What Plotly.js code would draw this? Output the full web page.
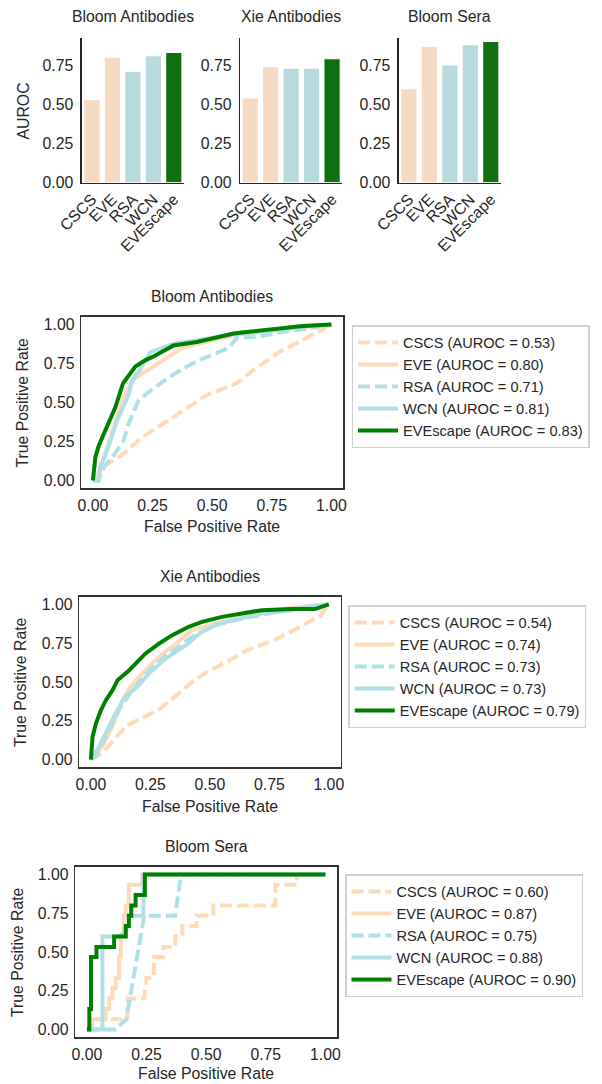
<!DOCTYPE html>
<html>
<head>
<meta charset="utf-8">
<script src="https://cdn.plot.ly/plotly-3.0.1.min.js"></script>
<style>html,body{margin:0;padding:0;background:#fff;}#chart{width:602px;height:1084px;}</style>
</head>
<body>
<div id="chart"></div>
<script>
// ---------- data ----------
const methods = ['CSCS', 'EVE', 'RSA', 'WCN', 'EVEscape'];
const datasets = ['Bloom Antibodies', 'Xie Antibodies', 'Bloom Sera'];

const aurocBloomAb = [0.53, 0.80, 0.71, 0.81, 0.83];
const aurocXieAb = [0.54, 0.74, 0.73, 0.73, 0.79];
const aurocBloomSera = [0.60, 0.87, 0.75, 0.88, 0.90];

// ROC curves: Bloom Antibodies
const bloomAbCscsFpr = [0, 0.017, 0.052, 0.129, 0.199, 0.338, 0.478, 0.604, 0.674, 0.786, 0.898, 1];
const bloomAbCscsTpr = [0, 0.02, 0.096, 0.172, 0.269, 0.409, 0.548, 0.624, 0.71, 0.828, 0.914, 1];
const bloomAbEveFpr = [0, 0.017, 0.045, 0.087, 0.129, 0.171, 0.227, 0.311, 0.381, 0.478, 0.59, 0.758, 1];
const bloomAbEveTpr = [0, 0.02, 0.146, 0.339, 0.533, 0.651, 0.705, 0.791, 0.855, 0.888, 0.931, 0.963, 1];
const bloomAbRsaFpr = [0, 0.024, 0.045, 0.087, 0.129, 0.15, 0.192, 0.254, 0.324, 0.394, 0.45, 0.534, 0.569, 0.604, 0.702, 0.814, 0.898, 1];
const bloomAbRsaTpr = [0, 0, 0.086, 0.161, 0.258, 0.366, 0.516, 0.591, 0.667, 0.731, 0.774, 0.828, 0.849, 0.914, 0.925, 0.957, 0.972, 1];
const bloomAbWcnFpr = [0, 0.024, 0.031, 0.059, 0.101, 0.136, 0.15, 0.164, 0.199, 0.241, 0.311, 0.338, 0.478, 0.59, 0.758, 0.898, 1];
const bloomAbWcnTpr = [0, 0, 0.086, 0.19, 0.383, 0.512, 0.55, 0.64, 0.716, 0.823, 0.866, 0.877, 0.909, 0.937, 0.963, 0.995, 1];
const bloomAbEvescapeFpr = [0, 0.01, 0.024, 0.045, 0.066, 0.094, 0.126, 0.157, 0.178, 0.219, 0.254, 0.338, 0.436, 0.59, 0.758, 0.87, 1];
const bloomAbEvescapeTpr = [0, 0.146, 0.221, 0.296, 0.361, 0.469, 0.623, 0.683, 0.731, 0.77, 0.795, 0.866, 0.888, 0.942, 0.967, 0.989, 1];

// ROC curves: Xie Antibodies
const xieAbCscsFpr = [0, 0.014, 0.056, 0.091, 0.146, 0.216, 0.286, 0.356, 0.439, 0.495, 0.565, 0.663, 0.775, 0.886, 0.969, 1];
const xieAbCscsTpr = [0, 0.011, 0.054, 0.118, 0.215, 0.269, 0.323, 0.409, 0.516, 0.57, 0.624, 0.71, 0.774, 0.86, 0.935, 1];
const xieAbEveFpr = [0, 0.007, 0.049, 0.091, 0.133, 0.167, 0.216, 0.286, 0.356, 0.425, 0.495, 0.607, 0.718, 0.844, 1];
const xieAbEveTpr = [0, 0.011, 0.086, 0.215, 0.383, 0.469, 0.555, 0.662, 0.748, 0.834, 0.866, 0.909, 0.952, 0.98, 1];
const xieAbRsaFpr = [0, 0.021, 0.063, 0.119, 0.174, 0.244, 0.328, 0.425, 0.523, 0.635, 0.746, 0.886, 1];
const xieAbRsaTpr = [0, 0.022, 0.15, 0.323, 0.447, 0.576, 0.684, 0.791, 0.866, 0.909, 0.942, 0.974, 1];
const xieAbWcnFpr = [0, 0.007, 0.035, 0.07, 0.105, 0.146, 0.195, 0.244, 0.307, 0.356, 0.411, 0.439, 0.467, 0.537, 0.635, 0.718, 0.844, 0.941, 1];
const xieAbWcnTpr = [0, 0.011, 0.086, 0.193, 0.301, 0.409, 0.469, 0.555, 0.641, 0.695, 0.748, 0.791, 0.823, 0.877, 0.909, 0.942, 0.963, 0.995, 1];
const xieAbEvescapeFpr = [0, 0.007, 0.021, 0.042, 0.063, 0.091, 0.112, 0.161, 0.195, 0.23, 0.286, 0.342, 0.411, 0.467, 0.551, 0.635, 0.718, 0.844, 0.941, 1];
const xieAbEvescapeTpr = [0, 0.146, 0.232, 0.318, 0.383, 0.447, 0.512, 0.576, 0.63, 0.684, 0.748, 0.802, 0.856, 0.888, 0.92, 0.942, 0.963, 0.97, 0.97, 1];

// ROC curves: Bloom Sera
const bloomSeraCscsFpr = [0, 0.02, 0.02, 0.17, 0.17, 0.24, 0.25, 0.28, 0.28, 0.32, 0.32, 0.37, 0.37, 0.40, 0.40, 0.46, 0.46, 0.53, 0.53, 0.79, 0.79, 0.88, 0.88, 1];
const bloomSeraCscsTpr = [0, 0, 0.067, 0.067, 0.2, 0.2, 0.333, 0.333, 0.467, 0.467, 0.533, 0.533, 0.6, 0.6, 0.667, 0.667, 0.733, 0.733, 0.8, 0.8, 0.933, 0.933, 1, 1];
const bloomSeraEveFpr = [0, 0.02, 0.02, 0.079, 0.079, 0.093, 0.093, 0.107, 0.107, 0.121, 0.121, 0.135, 0.135, 0.142, 0.142, 0.155, 0.155, 0.163, 0.163, 0.175, 0.175, 0.232, 0.232, 1];
const bloomSeraEveTpr = [0, 0, 0.067, 0.067, 0.133, 0.133, 0.2, 0.2, 0.267, 0.267, 0.333, 0.333, 0.467, 0.467, 0.6, 0.6, 0.733, 0.733, 0.8, 0.8, 0.933, 0.933, 1, 1];
const bloomSeraRsaFpr = [0, 0.12, 0.165, 0.24, 0.37, 0.395, 1];
const bloomSeraRsaTpr = [0, 0, 0.067, 0.733, 0.733, 1, 1];
const bloomSeraWcnFpr = [0, 0.065, 0.065, 0.135, 0.16, 0.175, 0.175, 0.237, 0.237, 1];
const bloomSeraWcnTpr = [0, 0, 0.6, 0.6, 0.633, 0.667, 0.733, 0.733, 1, 1];
const bloomSeraEvescapeFpr = [0, 0.01, 0.01, 0.017, 0.017, 0.04, 0.04, 0.114, 0.114, 0.163, 0.163, 0.176, 0.176, 0.186, 0.186, 0.204, 0.204, 0.243, 0.243, 1];
const bloomSeraEvescapeTpr = [0, 0, 0.133, 0.133, 0.467, 0.467, 0.533, 0.533, 0.6, 0.6, 0.667, 0.667, 0.733, 0.733, 0.8, 0.8, 0.867, 0.867, 1, 1];

// ---------- styles ----------
const FONT = 'Liberation Sans, Arial, Helvetica, sans-serif';
const TXT = '#262626';
const FS = 15.8;
const LEG_FS = 14.6;
const barColors = ['#F6DAC2', '#F6DAC2', '#B7DADF', '#B7DADF', '#107010'];
const lineColors = ['#FFDAB9', '#FFDAB9', '#B0E0E6', '#B0E0E6', '#008000'];
const lineDash = ['12px,5px', 'solid', '12px,5px', 'solid', 'solid'];

const W = 602, H = 1084;
const px = v => v / W;
const py = v => 1 - v / H;

const barAurocs = [aurocBloomAb, aurocXieAb, aurocBloomSera];
const rocData = [
  [[bloomAbCscsFpr, bloomAbCscsTpr], [bloomAbEveFpr, bloomAbEveTpr], [bloomAbRsaFpr, bloomAbRsaTpr], [bloomAbWcnFpr, bloomAbWcnTpr], [bloomAbEvescapeFpr, bloomAbEvescapeTpr]],
  [[xieAbCscsFpr, xieAbCscsTpr], [xieAbEveFpr, xieAbEveTpr], [xieAbRsaFpr, xieAbRsaTpr], [xieAbWcnFpr, xieAbWcnTpr], [xieAbEvescapeFpr, xieAbEvescapeTpr]],
  [[bloomSeraCscsFpr, bloomSeraCscsTpr], [bloomSeraEveFpr, bloomSeraEveTpr], [bloomSeraRsaFpr, bloomSeraRsaTpr], [bloomSeraWcnFpr, bloomSeraWcnTpr], [bloomSeraEvescapeFpr, bloomSeraEvescapeTpr]]
];

// layout geometry (pixels)
const barBoxes = [[81.7, 184], [240, 342.3], [398.7, 501]];
const barTop = 37.7, barBottom = 182.7;
const rocBoxes = [
  {x0: 81, x1: 343.3, y0: 316.7, y1: 488.3, title: 296, xt: 526, yt: 22, leg: [351.5, 325]},
  {x0: 79, x1: 340.7, y0: 596.7, y1: 767.3, title: 576, xt: 806, yt: 20, leg: [348.3, 605]},
  {x0: 75, x1: 337.3, y0: 866.7, y1: 1037.3, title: 846, xt: 1073, yt: 17, leg: [345, 874]}
];

const traces = [];
const layout = {
  width: W, height: H,
  margin: {l: 0, r: 0, t: 0, b: 0},
  paper_bgcolor: '#ffffff', plot_bgcolor: '#ffffff',
  font: {family: FONT, color: TXT, size: FS},
  showlegend: true,
  annotations: []
};

// bar panels
barAurocs.forEach((vals, i) => {
  const n = i + 1;
  const xa = 'xaxis' + n, ya = 'yaxis' + n;
  traces.push({
    type: 'bar', x: methods, y: vals,
    xaxis: 'x' + n, yaxis: 'y' + n,
    marker: {color: barColors, line: {color: '#ffffff', width: 1.2}},
    showlegend: false, hoverinfo: 'skip'
  });
  layout[xa] = {
    domain: [px(barBoxes[i][0]), px(barBoxes[i][1])], anchor: 'y' + n,
    showline: true, linecolor: TXT, linewidth: 1.3, mirror: false,
    showgrid: false, zeroline: false, ticks: '', tickangle: -45,
    tickfont: {size: FS, color: TXT, family: FONT}, fixedrange: true,
    range: [-0.5, 4.5]
  };
  layout[ya] = {
    domain: [py(barBottom), py(barTop)], anchor: 'x' + n,
    range: [0, 0.924], tickvals: [0, 0.25, 0.5, 0.75], tickformat: '.2f',
    showline: true, linecolor: TXT, linewidth: 1.3, mirror: false,
    showgrid: false, zeroline: false, ticks: '', ticklabelstandoff: 4,
    tickfont: {size: FS, color: TXT, family: FONT}, fixedrange: true
  };
  layout.annotations.push({
    text: datasets[i], xref: 'paper', yref: 'paper',
    x: px((barBoxes[i][0] + barBoxes[i][1]) / 2), y: py(17),
    xanchor: 'center', yanchor: 'middle', showarrow: false,
    font: {size: FS, color: TXT, family: FONT}
  });
});
layout.annotations.push({
  text: 'AUROC', xref: 'paper', yref: 'paper', x: px(23), y: py(111.5),
  xanchor: 'center', yanchor: 'middle', textangle: -90, showarrow: false,
  font: {size: FS, color: TXT, family: FONT}
});

// ROC panels
rocData.forEach((curves, i) => {
  const n = i + 4;
  const b = rocBoxes[i];
  const legName = i === 0 ? 'legend' : 'legend' + (i + 1);
  curves.forEach((c, k) => {
    traces.push({
      type: 'scatter', mode: 'lines', x: c[0], y: c[1],
      xaxis: 'x' + n, yaxis: 'y' + n,
      name: methods[k] + ' (AUROC = ' + barAurocs[i][k].toFixed(2) + ')',
      line: {color: lineColors[k], width: 4, dash: lineDash[k]},
      legend: legName, hoverinfo: 'skip'
    });
  });
  layout['xaxis' + n] = {
    domain: [px(b.x0), px(b.x1)], anchor: 'y' + n,
    range: [-0.05, 1.05], tickvals: [0, 0.25, 0.5, 0.75, 1], tickformat: '.2f',
    showline: true, mirror: true, linecolor: '#333333', linewidth: 1.3,
    showgrid: false, zeroline: false, ticks: '', ticklabelstandoff: 2,
    tickfont: {size: FS, color: TXT, family: FONT}, fixedrange: true
  };
  layout['yaxis' + n] = {
    domain: [py(b.y1), py(b.y0)], anchor: 'x' + n,
    range: [-0.05, 1.05], tickvals: [0, 0.25, 0.5, 0.75, 1], tickformat: '.2f',
    showline: true, mirror: true, linecolor: '#333333', linewidth: 1.3,
    showgrid: false, zeroline: false, ticks: '', ticklabelstandoff: 2,
    tickfont: {size: FS, color: TXT, family: FONT}, fixedrange: true
  };
  layout[legName] = {
    x: px(b.leg[0]), y: py(b.leg[1]), xanchor: 'left', yanchor: 'top',
    bgcolor: '#ffffff', bordercolor: '#d0d0d0', borderwidth: 1.5,
    font: {size: LEG_FS, color: TXT, family: FONT}, itemwidth: 40
  };
  layout.annotations.push({
    text: datasets[i], xref: 'paper', yref: 'paper',
    x: px((b.x0 + b.x1) / 2), y: py(b.title),
    xanchor: 'center', yanchor: 'middle', showarrow: false,
    font: {size: FS, color: TXT, family: FONT}
  });
  layout.annotations.push({
    text: 'False Positive Rate', xref: 'paper', yref: 'paper',
    x: px((b.x0 + b.x1) / 2), y: py(b.xt),
    xanchor: 'center', yanchor: 'middle', showarrow: false,
    font: {size: FS, color: TXT, family: FONT}
  });
  layout.annotations.push({
    text: 'True Positive Rate', xref: 'paper', yref: 'paper',
    x: px(b.yt), y: py((b.y0 + b.y1) / 2),
    xanchor: 'center', yanchor: 'middle', textangle: -90, showarrow: false,
    font: {size: FS, color: TXT, family: FONT}
  });
});

Plotly.newPlot('chart', traces, layout, {displayModeBar: false, staticPlot: true});
</script>
</body>
</html>
